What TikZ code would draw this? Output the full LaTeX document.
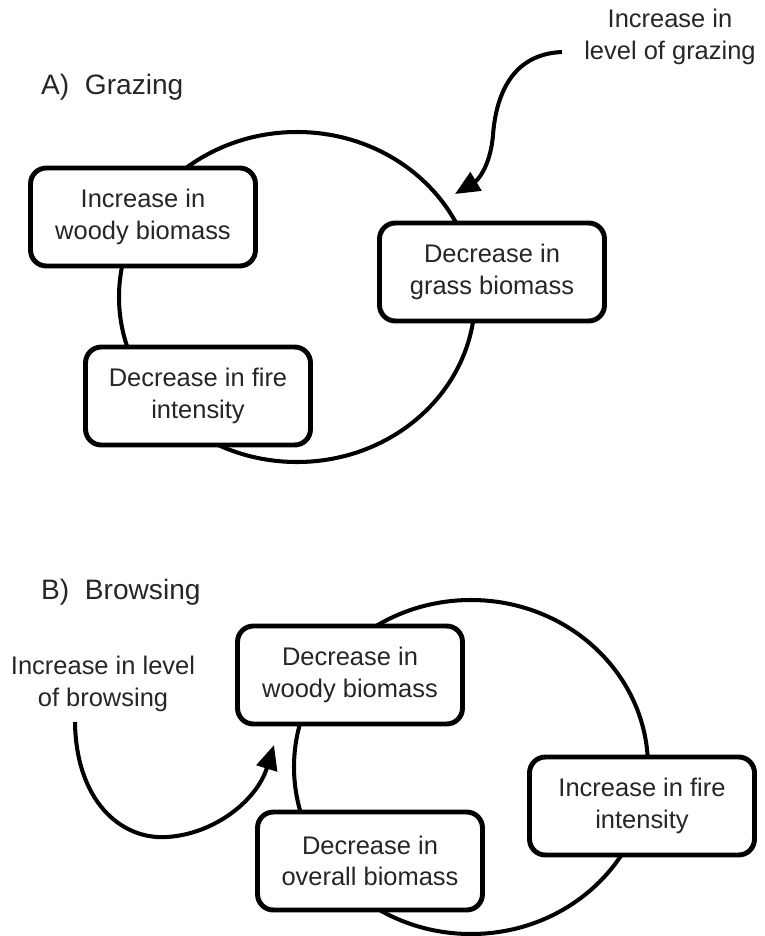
\documentclass[tikz,border=0pt]{standalone}
\usepackage{fontspec}
\setmainfont{Liberation Sans}
\usetikzlibrary{arrows.meta}

\begin{document}
\begin{tikzpicture}[x=0.02cm,y=-0.02cm,
  loop/.style={line width=2.3pt},
  factor/.style={draw,line width=2.8pt,fill=white,rounded corners=9pt,align=center,
    minimum width=4.5cm,minimum height=1.96cm,inner sep=0pt,text=black!85,
    font=\fontsize{14.5}{18}\selectfont},
  label/.style={align=center,text=black!85,font=\fontsize{14.5}{18}\selectfont},
  title/.style={anchor=west,text=black!85,font=\fontsize{16}{19}\selectfont},
  push/.style={line width=2.3pt,-{Triangle[length=14pt,width=12pt]}}]

  \useasboundingbox (0,0) rectangle (764,936);

  % A) grazing
  \node [title] (tA) at (35,87) {A)\ \ Grazing};
  \draw [loop] (297,297) ellipse [x radius=178,y radius=165];

  \node [factor] (woodyA) at (143,217) {Increase in\\woody biomass};
  \node [factor] (fireA) at (198,396) {Decrease in fire\\intensity};
  \node [factor] (grassA) at (492,272) {Decrease in\\grass biomass};

  \node [label] (graze) at (670,37) {Increase in\\level of grazing};
  \coordinate (grazeStart) at (562,52);
  \coordinate (grazeTip) at (455,194);
  \draw [push] (grazeStart) .. controls (512,54) and (496,95) .. (493,135)
    .. controls (490,170) and (475,182) .. (grazeTip);

  % B) browsing
  \node [title] (tB) at (35,592) {B)\ \ Browsing};
  \draw [loop] (471,767) ellipse [x radius=177,y radius=167];

  \node [factor] (woodyB) at (350,675) {Decrease in\\woody biomass};
  \node [factor] (fireB) at (642,806) {Increase in fire\\intensity};
  \node [factor] (allB) at (370,861) {Decrease in\\overall biomass};

  \node [label] (browse) at (103,684) {Increase in level\\of browsing};
  \coordinate (browseStart) at (75,722);
  \coordinate (browseTip) at (274,745);
  \draw [push] (browseStart) .. controls (76,800) and (120,840) .. (167,837)
    .. controls (215,834) and (257,800) .. (browseTip);

\end{tikzpicture}
\end{document}
